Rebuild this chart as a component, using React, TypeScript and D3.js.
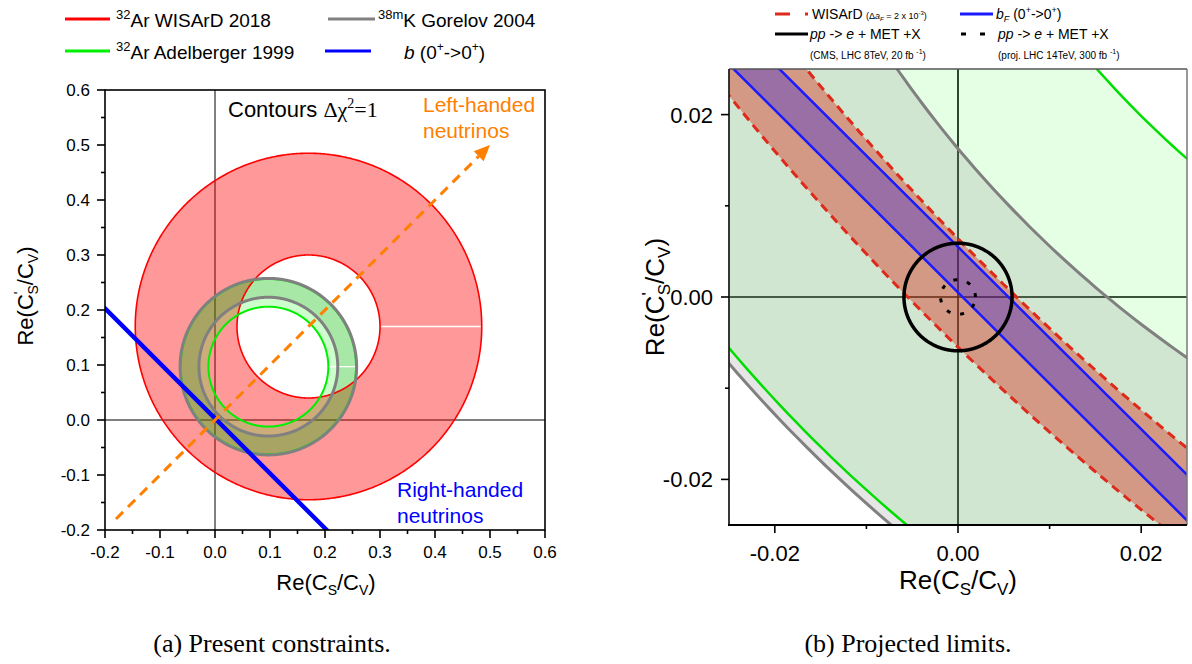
import React from "react";
import * as d3 from "d3";

// ---------- data ----------
// present constraints (panel a) — rings: [WISArD 2018, Adelberger 1999, Gorelov 2004]
const ringNames = ["WISArD 2018", "Adelberger 1999", "Gorelov 2004"];
const ringCx = [0.17, 0.097, 0.097];
const ringCy = [0.17, 0.097, 0.097];
const ringInner = [0.13, 0.109, 0.1262];
const ringOuter = [0.315, 0.1594, 0.1605];

// b (0+ -> 0+) band : Re(Cs)+Re(Cs') in [lo, hi]
const bBand = [0.0005, 0.0055];
// left-handed neutrino direction (x = y), start and end
const leftHandedArrow = [-0.18, 0.5];

// projected limits (panel b)
const wisardProjCenter = [0.21, 0.21];
const wisardProjRadii = [0.2925, 0.3009];
const lhcCenter = [0, 0];
const lhcRadii = [0.0059, 0.0019]; // CMS 8 TeV 20 fb-1, projected 14 TeV 300 fb-1

// axes
const leftTickValues = [-0.2, -0.1, 0, 0.1, 0.2, 0.3, 0.4, 0.5, 0.6];
const leftTickLabels = ["-0.2", "-0.1", "0.0", "0.1", "0.2", "0.3", "0.4", "0.5", "0.6"];
const rightTickValues = [-0.02, 0, 0.02];
const rightTickLabels = ["-0.02", "0.00", "0.02"];
const leftDomain = [-0.2, 0.6];
const rightDomain = [-0.025, 0.025];

// ---------- helpers ----------
const SANS = "'Liberation Sans', Arial, Helvetica, sans-serif";
const SERIF = "'Liberation Serif', 'Times New Roman', serif";

type Sc = d3.ScaleLinear<number, number>;

function circlePath(sx: Sc, sy: Sc, cx: number, cy: number, r: number) {
  const pts = d3.range(0, 721).map((i) => {
    const a = (i * Math.PI) / 360;
    return [sx(cx + r * Math.cos(a)), sy(cy + r * Math.sin(a))] as [number, number];
  });
  return (d3.line()(pts) || "") + "Z";
}
function ringPath(sx: Sc, sy: Sc, cx: number, cy: number, r0: number, r1: number) {
  return circlePath(sx, sy, cx, cy, r1) + circlePath(sx, sy, cx, cy, r0);
}
function sumLine(sx: Sc, sy: Sc, s: number, dom: number[]) {
  const span = dom[1] - dom[0];
  const xs = [dom[0] - span, dom[1] + span];
  return d3.line()(xs.map((x) => [sx(x), sy(s - x)] as [number, number])) || "";
}
function sumBand(sx: Sc, sy: Sc, lo: number, hi: number, dom: number[]) {
  const span = dom[1] - dom[0];
  const xs = [dom[0] - span, dom[1] + span];
  const p = [
    [xs[0], lo - xs[0]],
    [xs[1], lo - xs[1]],
    [xs[1], hi - xs[1]],
    [xs[0], hi - xs[0]],
  ].map(([x, y]) => [sx(x), sy(y)] as [number, number]);
  return (d3.line()(p) || "") + "Z";
}
function minorTicks(v: number[]) {
  return d3.pairs(v).map(([a, b]) => (a + b) / 2);
}

export default function App() {
  // panel a scales
  const ax = d3.scaleLinear().domain(leftDomain).range([105, 545]);
  const ay = d3.scaleLinear().domain(leftDomain).range([530, 90]);
  // panel b scales
  const bx = d3.scaleLinear().domain(rightDomain).range([729, 1187]);
  const by = d3.scaleLinear().domain(rightDomain).range([525, 69]);

  const leftFills = ["rgba(255,0,0,0.4)", "rgba(0,255,0,0.2)", "rgba(0,128,0,0.18)"];
  const rightFills = ["rgba(0,255,0,0.1)", "rgba(128,128,128,0.2)"];

  const leftMinor = minorTicks(leftTickValues);
  const rightMinor = minorTicks(rightTickValues);

  const arrowStart = leftHandedArrow[0];
  const arrowEnd = leftHandedArrow[1];
  const ax1 = ax(arrowEnd), ay1 = ay(arrowEnd);
  const headLen = 16, headW = 7;
  const ang = Math.atan2(ay1 - ay(arrowStart), ax1 - ax(arrowStart));
  const hx = ax1 - headLen * Math.cos(ang), hy = ay1 - headLen * Math.sin(ang);
  const arrowHead = `M${ax1},${ay1}L${hx + headW * Math.sin(ang)},${hy - headW * Math.cos(ang)}L${hx - headW * Math.sin(ang)},${hy + headW * Math.cos(ang)}Z`;

  return (
    <svg width={1192} height={664} style={{ position: "absolute", left: 0, top: 0, background: "#fff" }} fontFamily={SANS}>
      <defs>
        <clipPath id="clipA">
          <rect x={105} y={90} width={440} height={440} />
        </clipPath>
        <clipPath id="clipB">
          <rect x={729} y={69} width={458} height={456} />
        </clipPath>
      </defs>

      {/* ================= Legend panel a ================= */}
      <g fontSize={19} fill="#000">
        <line x1={65} x2={110} y1={19} y2={19} stroke="#ff0000" strokeWidth={3} />
        <text x={116} y={27}>
          <tspan fontSize={13} dy={-8}>32</tspan>
          <tspan dy={8}>Ar WISArD 2018</tspan>
        </text>
        <line x1={328} x2={375} y1={19} y2={19} stroke="#808080" strokeWidth={3} />
        <text x={378} y={27}>
          <tspan fontSize={13} dy={-8}>38m</tspan>
          <tspan dy={8}>K Gorelov 2004</tspan>
        </text>
        <line x1={65} x2={110} y1={51} y2={51} stroke="#00ee00" strokeWidth={3} />
        <text x={116} y={59}>
          <tspan fontSize={13} dy={-8}>32</tspan>
          <tspan dy={8}>Ar Adelberger 1999</tspan>
        </text>
        <line x1={325} x2={371} y1={51} y2={51} stroke="#0000ff" strokeWidth={3} />
        <text x={404} y={59}>
          <tspan fontStyle="italic">b</tspan>
          <tspan> (0</tspan>
          <tspan fontSize={12} dy={-8}>+</tspan>
          <tspan dy={8}>-&gt;0</tspan>
          <tspan fontSize={12} dy={-8}>+</tspan>
          <tspan dy={8}>)</tspan>
        </text>
      </g>

      {/* ================= Panel a ================= */}
      <g clipPath="url(#clipA)">
        <line x1={ax(0)} x2={ax(0)} y1={90} y2={530} stroke="#000" strokeWidth={1} />
        <line x1={105} x2={545} y1={ay(0)} y2={ay(0)} stroke="#000" strokeWidth={1} />
        {ringNames.map((n, i) => (
          <path key={n} d={ringPath(ax, ay, ringCx[i], ringCy[i], ringInner[i], ringOuter[i])} fill={leftFills[i]} fillRule="evenodd" />
        ))}
        {/* rendering seams */}
        {[0, 1].map((i) => (
          <line key={"seam" + i} x1={ax(ringCx[i] + ringInner[i]) + 1} x2={ax(ringCx[i] + ringOuter[i]) - 1} y1={ay(ringCy[i])} y2={ay(ringCy[i])} stroke="#fff" strokeWidth={1.3} />
        ))}
        {/* WISArD edges */}
        <path d={circlePath(ax, ay, ringCx[0], ringCy[0], ringOuter[0])} fill="none" stroke="#ff0000" strokeWidth={1.6} />
        <path d={circlePath(ax, ay, ringCx[0], ringCy[0], ringInner[0])} fill="none" stroke="#ff0000" strokeWidth={1.6} />
        {/* Adelberger edges */}
        <path d={circlePath(ax, ay, ringCx[1], ringCy[1], ringInner[1])} fill="none" stroke="#00ee00" strokeWidth={2} />
        <path d={circlePath(ax, ay, ringCx[1], ringCy[1], ringOuter[1])} fill="none" stroke="#00ee00" strokeWidth={2} />
        {/* Gorelov edges */}
        <path d={circlePath(ax, ay, ringCx[2], ringCy[2], ringInner[2])} fill="none" stroke="#808080" strokeWidth={3} />
        <path d={circlePath(ax, ay, ringCx[2], ringCy[2], ringOuter[2])} fill="none" stroke="#808080" strokeWidth={3} />
        {/* b band */}
        {bBand.map((s, i) => (
          <path key={"bl" + i} d={sumLine(ax, ay, s, leftDomain)} stroke="#0000ff" strokeWidth={2.4} fill="none" />
        ))}
        {/* left-handed arrow */}
        <line x1={ax(arrowStart)} y1={ay(arrowStart)} x2={hx} y2={hy} stroke="#ff8000" strokeWidth={3} strokeDasharray="10,7" />
        <path d={arrowHead} fill="#ff8000" />
      </g>
      {/* frame a */}
      <rect x={105} y={90} width={440} height={440} fill="none" stroke="#000" strokeWidth={1.6} />
      <g stroke="#000" strokeWidth={1.6}>
        {leftTickValues.map((v) => (
          <g key={"at" + v}>
            <line x1={ax(v)} x2={ax(v)} y1={530} y2={538} />
            <line x1={105} x2={97} y1={ay(v)} y2={ay(v)} />
          </g>
        ))}
        {leftMinor.map((v) => (
          <g key={"am" + v}>
            <line x1={ax(v)} x2={ax(v)} y1={530} y2={534} />
            <line x1={105} x2={101} y1={ay(v)} y2={ay(v)} />
          </g>
        ))}
      </g>
      <g fontSize={17} fill="#000">
        {leftTickValues.map((v, i) => (
          <text key={"axl" + v} x={ax(v)} y={558} textAnchor="middle">{leftTickLabels[i]}</text>
        ))}
        {leftTickValues.map((v, i) => (
          <text key={"ayl" + v} x={90} y={ay(v) + 6} textAnchor="end">{leftTickLabels[i]}</text>
        ))}
      </g>
      {/* axis titles a */}
      <text x={326} y={590} textAnchor="middle" fontSize={22}>
        <tspan>Re(C</tspan>
        <tspan fontSize={14} dy={5}>S</tspan>
        <tspan dy={-5}>/C</tspan>
        <tspan fontSize={14} dy={5}>V</tspan>
        <tspan dy={-5}>)</tspan>
      </text>
      <text transform="translate(33,296) rotate(-90)" textAnchor="middle" fontSize={22}>
        <tspan>Re(C</tspan>
        <tspan fontSize={14} dy={-9}>'</tspan>
        <tspan fontSize={14} dx={-3} dy={14}>S</tspan>
        <tspan dy={-5}>/C</tspan>
        <tspan fontSize={14} dy={5}>V</tspan>
        <tspan dy={-5}>)</tspan>
      </text>
      {/* annotations a */}
      <text x={228} y={117} fontSize={22}>
        <tspan>Contours </tspan>
        <tspan fontFamily={SERIF}>Δχ</tspan>
        <tspan fontFamily={SERIF} fontSize={14} dy={-9}>2</tspan>
        <tspan fontFamily={SERIF} dy={9}>=1</tspan>
      </text>
      <text x={423} y={112} fontSize={21} fill="#ff8000">Left-handed</text>
      <text x={423} y={138} fontSize={21} fill="#ff8000">neutrinos</text>
      <text x={397} y={497} fontSize={21} fill="#0000ff">Right-handed</text>
      <text x={397} y={523} fontSize={21} fill="#0000ff">neutrinos</text>

      {/* ================= Legend panel b ================= */}
      <g fill="#000">
        <line x1={775} x2={808} y1={14} y2={14} stroke="#dd2a1b" strokeWidth={3} strokeDasharray="15,15" />
        <text x={812} y={19} fontSize={14}>WISArD</text>
        <text x={866} y={19} fontSize={9}>
          <tspan>(Δ</tspan>
          <tspan fontStyle="italic">a</tspan>
          <tspan fontSize={6} dy={2} fontStyle="italic">F</tspan>
          <tspan dy={-2}> = 2 x 10</tspan>
          <tspan fontSize={6} dy={-4}>-3</tspan>
          <tspan dy={4}>)</tspan>
        </text>
        <line x1={960} x2={993} y1={14} y2={14} stroke="#1a1aff" strokeWidth={3} />
        <text x={996} y={19} fontSize={14}>
          <tspan fontStyle="italic">b</tspan>
          <tspan fontSize={9} dy={3} fontStyle="italic">F</tspan>
          <tspan dy={-3}> (0</tspan>
          <tspan fontSize={9} dy={-6}>+</tspan>
          <tspan dy={6}>-&gt;0</tspan>
          <tspan fontSize={9} dy={-6}>+</tspan>
          <tspan dy={6}>)</tspan>
        </text>
        <line x1={775} x2={808} y1={34} y2={34} stroke="#000" strokeWidth={3} />
        <text x={810} y={39} fontSize={14}>
          <tspan fontStyle="italic">pp</tspan>
          <tspan> -&gt; </tspan>
          <tspan fontStyle="italic">e</tspan>
          <tspan> + MET +X</tspan>
        </text>
        <line x1={961} x2={987} y1={34} y2={34} stroke="#000" strokeWidth={3} strokeDasharray="5,14" />
        <text x={998} y={39} fontSize={14}>
          <tspan fontStyle="italic">pp</tspan>
          <tspan> -&gt; </tspan>
          <tspan fontStyle="italic">e</tspan>
          <tspan> + MET +X</tspan>
        </text>
        <text x={810} y={59} fontSize={10}>
          <tspan>(CMS, LHC 8TeV, 20 fb </tspan>
          <tspan fontSize={7} dy={-5}>-1</tspan>
          <tspan dy={5}>)</tspan>
        </text>
        <text x={998} y={59} fontSize={10}>
          <tspan>(proj. LHC 14TeV, 300 fb </tspan>
          <tspan fontSize={7} dy={-5}>-1</tspan>
          <tspan dy={5}>)</tspan>
        </text>
      </g>

      {/* ================= Panel b ================= */}
      <rect x={729} y={69} width={458} height={456} fill="#fff" />
      <g clipPath="url(#clipB)">
        <line x1={bx(0)} x2={bx(0)} y1={69} y2={525} stroke="#000" strokeWidth={1.6} />
        <line x1={729} x2={1187} y1={by(0)} y2={by(0)} stroke="#000" strokeWidth={1.6} />
        {/* Adelberger & Gorelov rings */}
        <path d={ringPath(bx, by, ringCx[1], ringCy[1], ringInner[1], ringOuter[1])} fill={rightFills[0]} fillRule="evenodd" />
        <path d={ringPath(bx, by, ringCx[2], ringCy[2], ringInner[2], ringOuter[2])} fill={rightFills[1]} fillRule="evenodd" />
        {/* projected WISArD band */}
        <path d={ringPath(bx, by, wisardProjCenter[0], wisardProjCenter[1], wisardProjRadii[0], wisardProjRadii[1])} fill="rgba(215,38,20,0.4)" fillRule="evenodd" />
        {/* b_F band */}
        <path d={sumBand(bx, by, bBand[0], bBand[1], rightDomain)} fill="rgba(0,0,255,0.27)" />
        {/* curves */}
        <path d={circlePath(bx, by, ringCx[2], ringCy[2], ringInner[2])} fill="none" stroke="#808080" strokeWidth={3} />
        <path d={circlePath(bx, by, ringCx[2], ringCy[2], ringOuter[2])} fill="none" stroke="#808080" strokeWidth={3} />
        <path d={circlePath(bx, by, ringCx[1], ringCy[1], ringInner[1])} fill="none" stroke="#00dd00" strokeWidth={2.5} />
        <path d={circlePath(bx, by, ringCx[1], ringCy[1], ringOuter[1])} fill="none" stroke="#00dd00" strokeWidth={2.5} />
        {wisardProjRadii.map((r, i) => (
          <path key={"wr" + i} d={circlePath(bx, by, wisardProjCenter[0], wisardProjCenter[1], r)} fill="none" stroke="#dd2a1b" strokeWidth={3} strokeDasharray="9,6" />
        ))}
        {bBand.map((s, i) => (
          <path key={"bb" + i} d={sumLine(bx, by, s, rightDomain)} stroke="#1a1aff" strokeWidth={2.5} fill="none" />
        ))}
        <path d={circlePath(bx, by, lhcCenter[0], lhcCenter[1], lhcRadii[0])} fill="none" stroke="#000" strokeWidth={3.5} />
        <path d={circlePath(bx, by, lhcCenter[0], lhcCenter[1], lhcRadii[1])} fill="none" stroke="#000" strokeWidth={3} strokeDasharray="4,10" />
      </g>
      {/* frame b */}
      <line x1={729} x2={1187} y1={69} y2={69} stroke="#555" strokeWidth={1.5} />
      <line x1={1187} x2={1187} y1={69} y2={525} stroke="#777" strokeWidth={1.5} />
      <line x1={729} x2={729} y1={69} y2={525} stroke="#222" strokeWidth={1.8} />
      <line x1={728} x2={1187} y1={525} y2={525} stroke="#000" strokeWidth={2} />
      <g stroke="#000" strokeWidth={1.6}>
        {rightTickValues.map((v) => (
          <g key={"bt" + v}>
            <line x1={bx(v)} x2={bx(v)} y1={525} y2={533} />
            <line x1={729} x2={721} y1={by(v)} y2={by(v)} />
          </g>
        ))}
        {rightMinor.map((v) => (
          <g key={"bm" + v}>
            <line x1={bx(v)} x2={bx(v)} y1={525} y2={529} />
            <line x1={729} x2={725} y1={by(v)} y2={by(v)} />
          </g>
        ))}
      </g>
      <g fontSize={22} fill="#000">
        {rightTickValues.map((v, i) => (
          <text key={"bxl" + v} x={bx(v)} y={561} textAnchor="middle">{rightTickLabels[i]}</text>
        ))}
        {rightTickValues.map((v, i) => (
          <text key={"byl" + v} x={713} y={by(v) + 8} textAnchor="end">{rightTickLabels[i]}</text>
        ))}
      </g>
      <text x={958} y={589} textAnchor="middle" fontSize={26}>
        <tspan>Re(C</tspan>
        <tspan fontSize={17} dy={6}>S</tspan>
        <tspan dy={-6}>/C</tspan>
        <tspan fontSize={17} dy={6}>V</tspan>
        <tspan dy={-6}>)</tspan>
      </text>
      <text transform="translate(664,297) rotate(-90)" textAnchor="middle" fontSize={26}>
        <tspan>Re(C</tspan>
        <tspan fontSize={17} dy={-10}>'</tspan>
        <tspan fontSize={17} dx={-3} dy={16}>S</tspan>
        <tspan dy={-6}>/C</tspan>
        <tspan fontSize={17} dy={6}>V</tspan>
        <tspan dy={-6}>)</tspan>
      </text>

      {/* captions */}
      <text x={272} y={652} textAnchor="middle" fontSize={26} fontFamily={SERIF}>(a) Present constraints.</text>
      <text x={908} y={652} textAnchor="middle" fontSize={26} fontFamily={SERIF}>(b) Projected limits.</text>
    </svg>
  );
}
